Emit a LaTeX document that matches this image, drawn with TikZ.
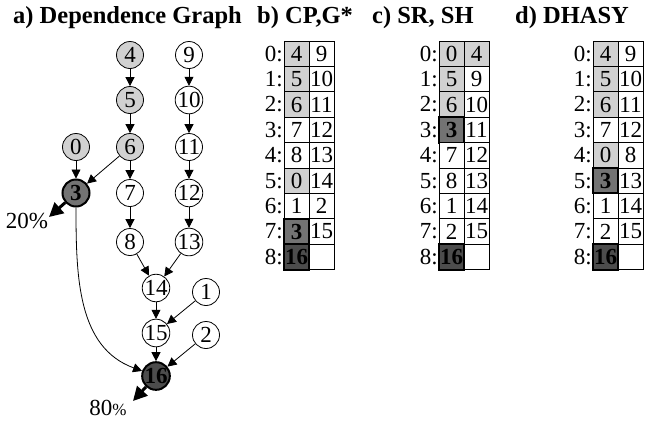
\documentclass[tikz,border=0pt]{standalone}
\usepackage{fontspec}
\setmainfont{Liberation Serif}
\usetikzlibrary{arrows.meta}
\begin{document}
\begin{tikzpicture}[x=1pt,y=-1pt,
  every node/.style={font=\fontsize{23}{25}\selectfont},
  gn/.style={circle,draw,line width=0.8pt,minimum size=27pt,inner sep=0pt,fill=white},
  gl/.style={gn,fill=black!18},
  gd/.style={gn,fill=black!55,line width=2pt,font=\fontsize{23}{25}\selectfont\bfseries},
  gdd/.style={gn,fill=black!70,line width=2pt,font=\fontsize{23}{25}\selectfont\bfseries},
  ar/.style={-{Triangle[length=9pt,width=9pt]},line width=0.8pt},
  big/.style={-{Triangle[length=14pt,width=14pt]},line width=3pt},
  cw/.style={draw,line width=0.8pt,minimum width=25pt,minimum height=25.4pt,inner sep=0pt,outer sep=0pt,fill=white},
  cl/.style={cw,fill=black!18},
  cd/.style={cw,fill=black!55,line width=2pt,font=\fontsize{23}{25}\selectfont\bfseries},
  cdd/.style={cw,fill=black!70,line width=2pt,font=\fontsize{23}{25}\selectfont\bfseries},
  title/.style={font=\fontsize{24.5}{26}\selectfont\bfseries,anchor=base west,inner sep=0pt},
  rl/.style={anchor=east,inner sep=1pt}
]
\useasboundingbox[fill=white] (0,0) rectangle (657,421);
% titles
\node[title] (ta) at (13,23) {a) Dependence Graph};
\node[title] (tb) at (257,23) {b) CP,G*};
\node[title] (tc) at (372,23) {c) SR, SH};
\node[title] (td) at (515,23) {d) DHASY};
% graph nodes
\node[gl] (n4) at (130,55) {4};
\node[gl] (n5) at (130,100) {5};
\node[gl] (n6) at (130,147) {6};
\node[gl] (n0) at (76,147) {0};
\node[gd] (n3) at (76,193) {3};
\node[gn] (n7) at (130,193) {7};
\node[gn] (n8) at (130,242) {8};
\node[gn] (n9) at (189,55) {9};
\node[gn] (n10) at (189,100) {10};
\node[gn] (n11) at (189,147) {11};
\node[gn] (n12) at (189,193) {12};
\node[gn] (n13) at (189,242) {13};
\node[gn] (n14) at (156,288) {14};
\node[gn] (n1) at (206,292) {1};
\node[gn] (n15) at (156,333) {15};
\node[gn] (n2) at (206,335) {2};
\node[gdd] (n16) at (156,376) {16};
% edges
\draw[ar] (n4) -- (n5);
\draw[ar] (n5) -- (n6);
\draw[ar] (n6) -- (n7);
\draw[ar] (n7) -- (n8);
\draw[ar] (n8) -- (n14);
\draw[ar] (n9) -- (n10);
\draw[ar] (n10) -- (n11);
\draw[ar] (n11) -- (n12);
\draw[ar] (n12) -- (n13);
\draw[ar] (n13) -- (n14);
\draw[ar] (n14) -- (n15);
\draw[ar] (n1) -- (n15);
\draw[ar] (n15) -- (n16);
\draw[ar] (n2) -- (n16);
\draw[ar] (n0) -- (n3);
\draw[ar] (n6) -- (n3);
\draw[ar] (n3) to[out=-90,in=160] (n16);
% percentage arrows
\coordinate (p20) at (49,217);
\coordinate (p80) at (133,401);
\draw[big] (n3) -- (p20);
\draw[big] (n16) -- (p80);
\node[inner sep=0pt] (l20) at (27,221) {20\%};
\node[inner sep=0pt] (l80) at (108,408) {80{\fontsize{17}{17}\selectfont\%}};
% tables
\foreach \tx/\tn/\rows in {284/b/{4/cl/9/cw,5/cl/10/cw,6/cl/11/cw,7/cw/12/cw,8/cw/13/cw,0/cl/14/cw,1/cw/2/cw,3/cd/15/cw,16/cdd//cw},
                           439/c/{0/cl/4/cl,5/cl/9/cw,6/cl/10/cw,3/cd/11/cw,7/cw/12/cw,8/cw/13/cw,1/cw/14/cw,2/cw/15/cw,16/cdd//cw},
                           593/d/{4/cl/9/cw,5/cl/10/cw,6/cl/11/cw,7/cw/12/cw,0/cl/8/cw,3/cd/13/cw,1/cw/14/cw,2/cw/15/cw,16/cdd//cw}}{
  \foreach \a/\sa/\b/\sb [count=\r from 0] in \rows {
    \pgfmathsetmacro{\yy}{41+25.4*\r+12.7}
    \node[\sb] (\tn r\r b) at (\tx+37.5,\yy) {\b};
    \node[rl] (\tn r\r l) at (\tx,\yy) {\r:};
  }
  \foreach \a/\sa/\b/\sb [count=\r from 0] in \rows {
    \pgfmathsetmacro{\yy}{41+25.4*\r+12.7}
    \node[\sa] (\tn r\r a) at (\tx+12.5,\yy) {\a};
  }
}
\end{tikzpicture}
\end{document}
